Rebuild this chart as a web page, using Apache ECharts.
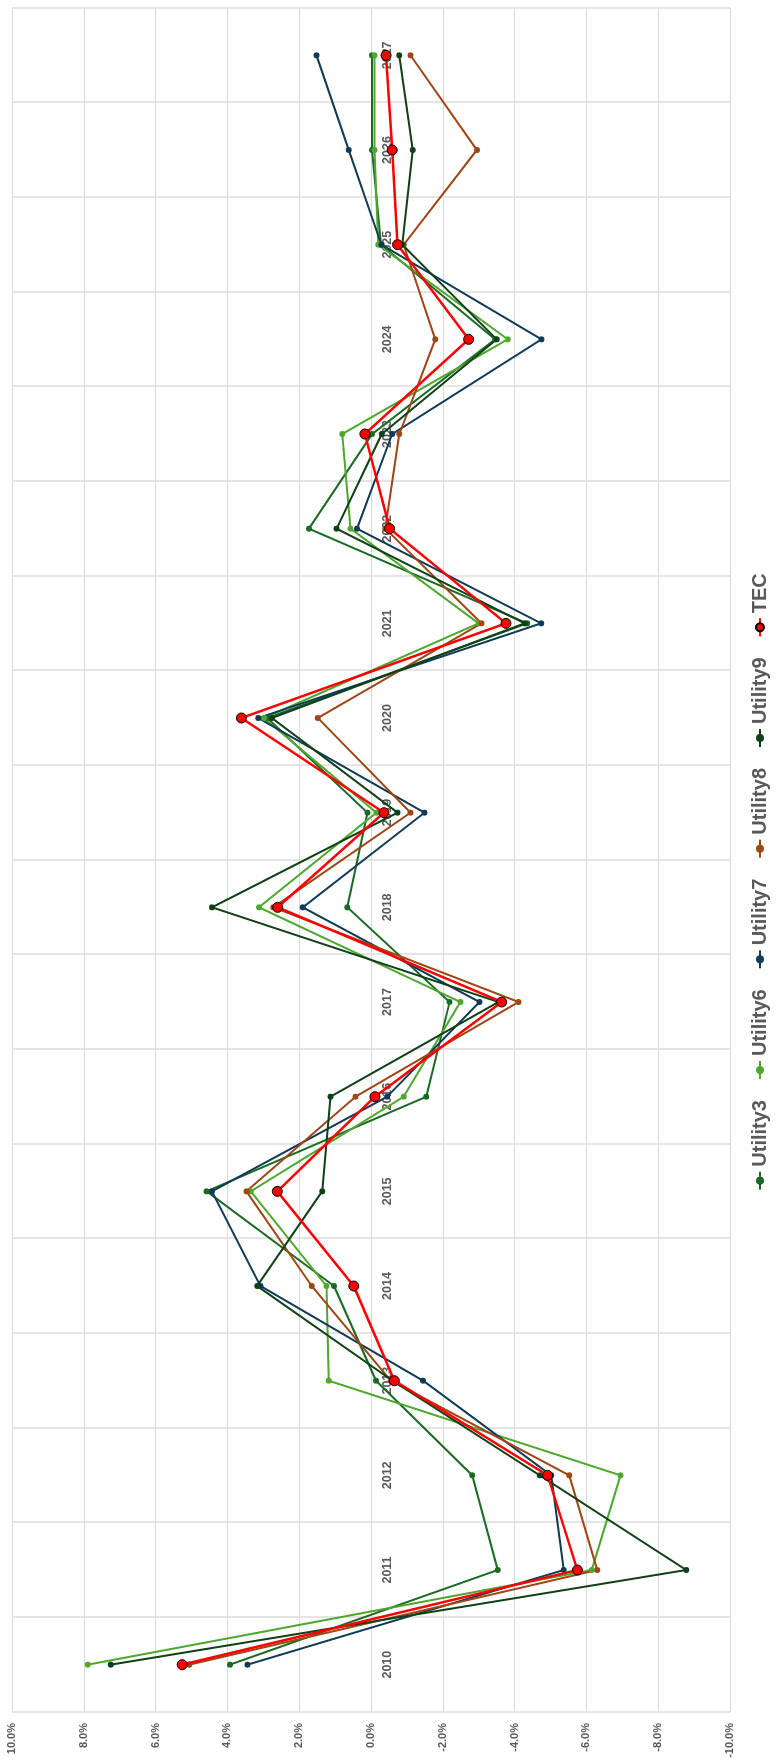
<!DOCTYPE html>
<html>
<head>
<meta charset="utf-8">
<script src="https://cdn.jsdelivr.net/npm/echarts@6/dist/echarts.min.js"></script>
<style>
  html, body { margin: 0; padding: 0; background: #ffffff; }
  body { width: 780px; height: 1764px; overflow: hidden; position: relative; }
  /* chart is laid out landscape and turned a quarter-turn counter-clockwise */
  #chart {
    position: absolute; left: 0; top: 1764px;
    width: 1764px; height: 780px;
    transform-origin: 0 0; transform: rotate(-90deg);
  }
</style>
</head>
<body>
<div id="chart"></div>
<script>
// Year-over-year change, percent
const years = ['2010','2011','2012','2013','2014','2015','2016','2017','2018',
               '2019','2020','2021','2022','2023','2024','2025','2026','2027'];

const utility3 = [3.93, -3.53, -2.82, -0.14, 1.03, 4.58, -1.54, -2.19, 0.66,
                  0.10, 2.89, -4.35, 1.73, -0.03, -3.46, -0.28, -0.03, -0.03];
const utility6 = [7.89, -6.15, -6.95, 1.18, 1.24, 3.35, -0.91, -2.49, 3.12,
                  -0.15, 2.98, -3.00, 0.57, 0.80, -3.81, -0.20, -0.10, -0.10];
const utility7 = [3.44, -5.37, -5.02, -1.45, 3.08, 4.43, -0.45, -3.02, 1.90,
                  -1.49, 3.14, -4.74, 0.39, -0.59, -4.75, -0.29, 0.62, 1.52];
const utility8 = [5.06, -6.30, -5.52, -0.55, 1.65, 3.47, 0.43, -4.11, 2.72,
                  -1.10, 1.48, -3.08, -0.40, -0.79, -1.79, -0.91, -2.95, -1.10];
const utility9 = [7.25, -8.78, -4.70, -0.60, 3.17, 1.36, 1.13, -3.55, 4.43,
                  -0.74, 2.76, -4.28, 0.96, -0.30, -3.50, -0.87, -1.16, -0.79];
const tec      = [5.26, -5.75, -4.92, -0.65, 0.48, 2.61, -0.11, -3.64, 2.60,
                  -0.36, 3.61, -3.76, -0.52, 0.17, -2.72, -0.74, -0.59, -0.42];

const valueMin = -10, valueMax = 10, valueStep = 2;

// plot box inside the landscape canvas
const gridTop = 12, gridBottom = 50, canvasHeight = 780;
const plotHeight = canvasHeight - gridTop - gridBottom;
// pull the year labels up to sit along the 0% line
const zeroOffset = -plotHeight * (0 - valueMin) / (valueMax - valueMin);

const utilitySeries = [
  { name: 'Utility3', data: utility3, color: '#196B24' },
  { name: 'Utility6', data: utility6, color: '#4EA72E' },
  { name: 'Utility7', data: utility7, color: '#0F3B57' },
  { name: 'Utility8', data: utility8, color: '#9E4615' },
  { name: 'Utility9', data: utility9, color: '#0F4016' }
];

const series = utilitySeries.map(s => ({
  name: s.name,
  type: 'line',
  data: s.data,
  symbol: 'circle',
  symbolSize: 6,
  lineStyle: { width: 2, color: s.color },
  itemStyle: { color: s.color },
  emphasis: { disabled: true }
}));
series.push({
  name: 'TEC',
  type: 'line',
  data: tec,
  symbol: 'circle',
  symbolSize: 10,
  lineStyle: { width: 2.5, color: '#FF0000' },
  itemStyle: { color: '#FF0000', borderColor: '#000000', borderWidth: 1 },
  emphasis: { disabled: true },
  z: 5
});

const chart = echarts.init(document.getElementById('chart'), null, { renderer: 'canvas' });
chart.setOption({
  animation: false,
  backgroundColor: '#ffffff',
  textStyle: { fontFamily: '"Liberation Sans", Arial, sans-serif' },
  grid: { left: 52, right: 8, top: gridTop, bottom: gridBottom, containLabel: false },
  legend: {
    data: ['Utility3', 'Utility6', 'Utility7', 'Utility8', 'Utility9', 'TEC'],
    left: 'center',
    top: 745,
    itemWidth: 18,
    itemHeight: 10,
    itemGap: 20,
    textStyle: { fontSize: 20, fontWeight: 'bold', color: '#595959',
                 fontFamily: '"Liberation Sans", Arial, sans-serif' }
  },
  xAxis: [{
    type: 'category',
    data: years,
    boundaryGap: true,
    position: 'bottom',
    axisLine: { show: false, onZero: false },
    axisTick: { show: false },
    axisLabel: { show: false },
    splitLine: { show: true, interval: 0, lineStyle: { color: '#dcdcdc', width: 1.5 } }
  }, {
    type: 'category',
    data: years,
    boundaryGap: true,
    position: 'bottom',
    offset: zeroOffset,
    axisLine: { show: false, onZero: false },
    axisTick: { show: false },
    axisLabel: {
      interval: 0, margin: 10, fontSize: 12.5, fontWeight: 'bold', color: '#595959',
      fontFamily: '"Liberation Sans", Arial, sans-serif'
    },
    splitLine: { show: false }
  }],
  yAxis: {
    type: 'value',
    min: valueMin, max: valueMax, interval: valueStep,
    axisLine: { show: false },
    axisTick: { show: false },
    axisLabel: {
      margin: 11, fontSize: 11, fontWeight: 'bold', color: '#595959',
      fontFamily: '"Liberation Sans", Arial, sans-serif',
      formatter: v => v.toFixed(1) + '%'
    },
    splitLine: { show: true, lineStyle: { color: '#d9d9d9', width: 1 } }
  },
  series: series
});
</script>
</body>
</html>
